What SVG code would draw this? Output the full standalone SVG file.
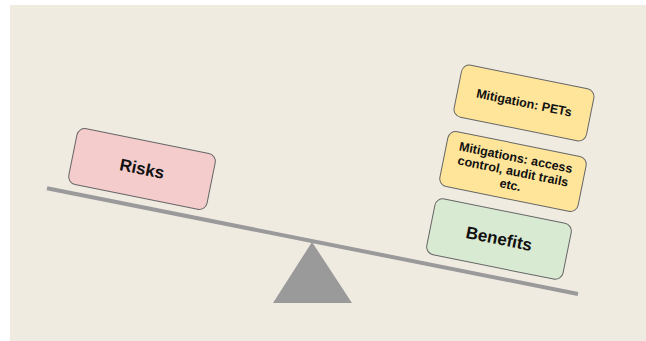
<svg xmlns="http://www.w3.org/2000/svg" width="646" height="341" viewBox="0 0 646 341">
<style>
.box{stroke:#666666;stroke-width:1}
.t{font-family:"Liberation Sans",Arial,sans-serif;font-weight:bold;fill:#111111;text-anchor:middle;dominant-baseline:central}
.big{font-size:17px}
.small{font-size:12.5px}
</style>
<rect x="0" y="0" width="646" height="341" fill="#ffffff"/>
<rect x="10" y="5" width="636" height="336" fill="#efebe1"/>
<g id="connectors">
<line x1="47" y1="188.3" x2="578" y2="294" stroke="#9a9a9a" stroke-width="4"/>
</g>
<g id="fulcrum">
<polygon points="312,242 273,303 352,303" fill="#9a9a9a"/>
</g>
<g id="risks" transform="translate(142,169) rotate(11.4)">
<rect class="box" x="-70.5" y="-28.5" width="141" height="57" rx="8" fill="#f4cccc"/>
<text class="t big" x="0" y="0">Risks</text>
</g>
<g id="pets" transform="translate(524,103) rotate(11.4)">
<rect class="box" x="-67.5" y="-26.5" width="135" height="53" rx="8" fill="#ffe599"/>
<text class="t small" x="0" y="0">Mitigation: PETs</text>
</g>
<g id="mitigations" transform="translate(513,171.5) rotate(11.4)">
<rect class="box" x="-70.5" y="-28" width="141" height="56" rx="8" fill="#ffe599"/>
<text class="t small" x="0" y="-14">Mitigations: access</text>
<text class="t small" x="0" y="0">control, audit trails</text>
<text class="t small" x="0" y="14">etc.</text>
</g>
<g id="benefits" transform="translate(499,239) rotate(11.4)">
<rect class="box" x="-69.5" y="-28.5" width="139" height="57" rx="8" fill="#d9ead3"/>
<text class="t big" x="0" y="0">Benefits</text>
</g>
</svg>
